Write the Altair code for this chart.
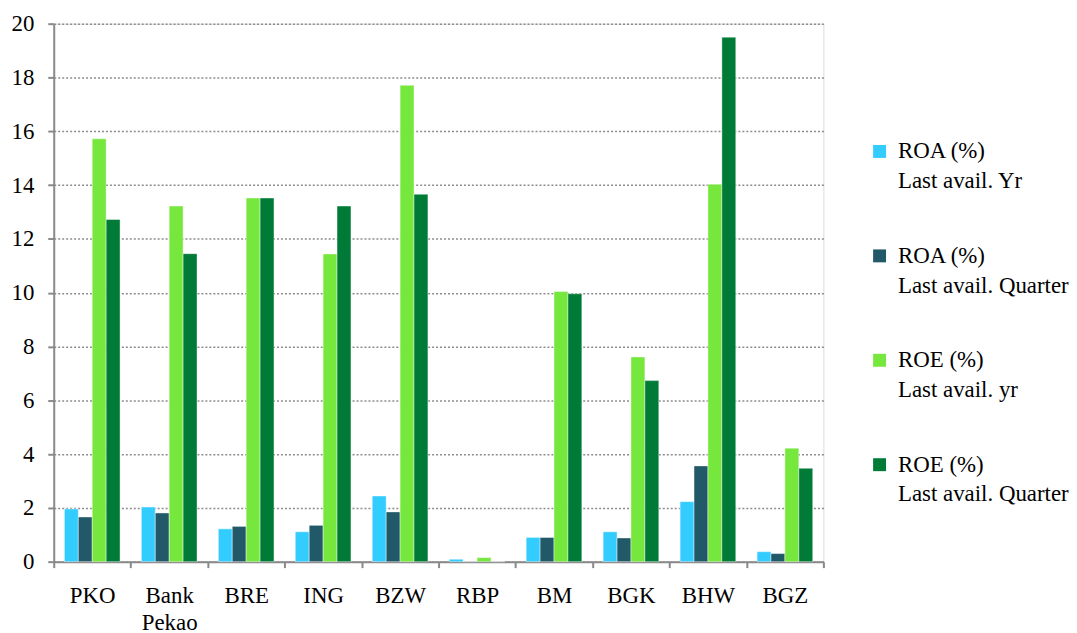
import altair as alt
import pandas as pd

banks = ["PKO", "Bank|Pekao", "BRE", "ING", "BZW", "RBP", "BM", "BGK", "BHW", "BGZ"]
series = [
    "ROA (%)|Last avail. Yr",
    "ROA (%)|Last avail. Quarter",
    "ROE (%)|Last avail. yr",
    "ROE (%)|Last avail. Quarter",
]
roa_yr = [1.96, 2.03, 1.22, 1.11, 2.44, 0.09, 0.90, 1.11, 2.23, 0.37]
roa_q = [1.66, 1.81, 1.31, 1.35, 1.85, 0.0, 0.90, 0.88, 3.56, 0.30]
roe_yr = [15.72, 13.22, 13.52, 11.44, 17.71, 0.15, 10.04, 7.61, 14.03, 4.22]
roe_q = [12.72, 11.45, 13.52, 13.22, 13.66, 0.0, 9.96, 6.73, 19.50, 3.47]
colors = ["#33CCFF", "#215968", "#76E73C", "#007A37"]
y_ticks = list(range(0, 21, 2))

rows = []
for s, vals in zip(series, [roa_yr, roa_q, roe_yr, roe_q]):
    for b, v in zip(banks, vals):
        rows.append({"bank": b, "series": s, "value": v})
df = pd.DataFrame(rows)

FONT = "'Liberation Serif', 'Times New Roman', serif"

chart = (
    alt.Chart(df)
    .mark_bar(stroke="white", strokeWidth=0.6, strokeOpacity=0.7)
    .encode(
        x=alt.X(
            "bank:N",
            sort=banks,
            scale=alt.Scale(paddingInner=0, paddingOuter=0),
            axis=alt.Axis(
                title=None,
                labelAngle=0,
                labelExpr="split(datum.label, '|')",
                tickBand="extent",
                tickSize=6,
                tickColor="#898989",
                tickWidth=2,
                domainColor="#898989",
                domainWidth=2,
                labelFont=FONT,
                labelFontSize=23,
                labelColor="black",
                labelPadding=17,
                labelLineHeight=27,
                grid=False,
            ),
        ),
        xOffset=alt.XOffset(
            "series:N", sort=series, scale=alt.Scale(paddingInner=0, paddingOuter=0.765)
        ),
        y=alt.Y(
            "value:Q",
            scale=alt.Scale(domain=[0, 20], nice=False),
            axis=alt.Axis(
                title=None,
                values=y_ticks,
                tickSize=6,
                tickColor="#898989",
                tickWidth=2,
                domainColor="#898989",
                domainWidth=2,
                labelFont=FONT,
                labelFontSize=23,
                labelColor="black",
                labelPadding=14,
                gridColor="#8c8c8c",
                gridDash=[2, 2],
                gridWidth=1.5,
            ),
        ),
        color=alt.Color(
            "series:N",
            sort=series,
            scale=alt.Scale(domain=series, range=colors),
            legend=alt.Legend(
                title=None,
                orient="none",
                legendX=819,
                legendY=117,
                labelExpr="split(datum.label, '|')",
                labelFont=FONT,
                labelFontSize=23,
                labelColor="black",
                labelOffset=7,
                labelLimit=400,
                symbolType="square",
                symbolSize=169,
                symbolStrokeWidth=0,
                rowPadding=51,
                padding=0,
            ),
        ),
    )
    .properties(width=774, height=541, padding={"left": 3, "top": 3, "right": 0, "bottom": 0})
    .configure_view(stroke=None)
    .configure(font=FONT, style={"guide-label": {"lineHeight": 30}})
)

chart.save("out.html", embed_options={"renderer": "svg", "actions": False})
